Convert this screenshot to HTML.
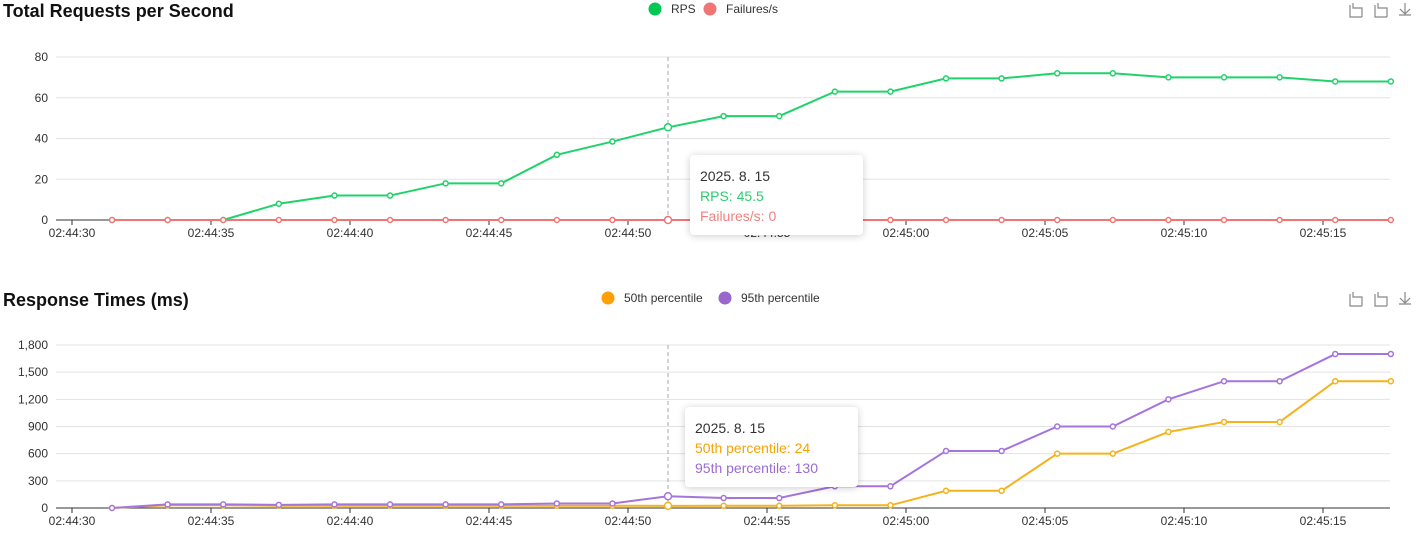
<!DOCTYPE html>
<html><head><meta charset="utf-8"><style>
body{margin:0;background:#fff;width:1421px;height:546px;overflow:hidden;font-family:"Liberation Sans",sans-serif}
svg{position:absolute;left:0;top:0}
.tip{position:absolute;background:#fff;border-radius:4px;box-shadow:0 1px 8px rgba(0,0,0,.2);padding:11px 10px;font-size:14px;line-height:20px;color:#333;width:153px;height:58px}
</style></head><body>
<svg width="1421" height="546" id="svg"></svg>
<div class="tip" style="left:690px;top:155px">
<div>2025. 8. 15</div>
<div style="color:#2ecc71">RPS: 45.5</div>
<div style="color:#f08080">Failures/s: 0</div></div>
<div class="tip" style="left:685px;top:407px">
<div>2025. 8. 15</div>
<div style="color:#f5a300">50th percentile: 24</div>
<div style="color:#9b6bd3">95th percentile: 130</div></div>
<script>
const rps=[0,0,0,8,12,12,18,18,32,38.5,45.5,51,51,63,63,69.5,69.5,72,72,70,70,70,68,68];
const failures=[0,0,0,0,0,0,0,0,0,0,0,0,0,0,0,0,0,0,0,0,0,0,0,0];
const p50=[0,30,30,25,25,25,25,25,25,25,24,25,25,30,30,190,190,600,600,840,950,950,1400,1400];
const p95=[0,40,40,35,40,40,40,40,50,50,130,110,110,240,240,630,630,900,900,1200,1400,1400,1700,1700];
const xTicks=["02:44:30","02:44:35","02:44:40","02:44:45","02:44:50","02:44:55","02:45:00","02:45:05","02:45:10","02:45:15"];
const rpsTicks=[0,20,40,60,80];
const rtTicks=[0,300,600,900,1200,1500,1800];
const NS="http://www.w3.org/2000/svg",svg=document.getElementById('svg');
function el(t,a,p){const e=document.createElementNS(NS,t);for(const k in a)e.setAttribute(k,a[k]);(p||svg).appendChild(e);return e;}
const secPx=27.8, x0=72, firstSec=1.44;
const xT=i=>x0+i*5*secPx;
const xP=i=>x0+(firstSec+2*i)*secPx;
function chart(top,bottom,maxV,ticks,fmt,series,title,legend,ty,hover){
  const y=v=>bottom-(v/maxV)*(bottom-top);
  let t=el('text',{x:3,y:ty,'font-size':18,'font-weight':'bold',fill:'#111'});t.textContent=title;
  
  
  legend.forEach(l=>{
    let c=el('circle',{cx:l.x,cy:ty-8,r:6.5,fill:l.c});
    
    
    let lt=el('text',{x:l.x+16,y:ty-4,'font-size':12,fill:'#333'});lt.textContent=l.t;
    
    
  });
  [1356,1381,1405].forEach((ix,k)=>{
    let g=el('path',{d:k==2?`M${ix} ${ty-14}v10m-5 -4l5 5l5 -5M${ix-6} ${ty-2}h12`:`M${ix-6} ${ty-12}v12h12M${ix-3} ${ty-14}v5h9v9`,stroke:'#888',fill:'none','stroke-width':1.2});
    
    
  });
  ticks.forEach(v=>{
    el('line',{x1:56,x2:1390,y1:y(v),y2:y(v),stroke:v?'#e3e3e3':'#333','stroke-width':1});
    let tt=el('text',{x:48,y:y(v)+4,'font-size':12,fill:'#333','text-anchor':'end'});tt.textContent=fmt(v);
    
    
  });
  xTicks.forEach((s,i)=>{
    el('line',{x1:xT(i),x2:xT(i),y1:bottom,y2:bottom+5,stroke:'#333'});
    let tt=el('text',{x:xT(i),y:bottom+17,'font-size':12,fill:'#333','text-anchor':'middle'});tt.textContent=s;
    
    
  });
  el('line',{x1:xP(hover),x2:xP(hover),y1:top,y2:bottom,stroke:'#aaa','stroke-dasharray':'4,3'});
  series.forEach(s=>{
    let p=el('polyline',{points:s.d.map((v,i)=>xP(i)+','+y(v)).join(' '),fill:'none',stroke:s.c,'stroke-width':2});
    
    
    s.d.forEach((v,i)=>{
      let c=el('circle',{cx:xP(i),cy:y(v),r:i==hover?3.5:2.5,fill:'#fff',stroke:s.c,'stroke-width':1.5});
      
      
    });
  });
}
chart(57,220,80,rpsTicks,v=>v,[{d:rps,c:'#1fd36a',n:'rps'},{d:failures,c:'#f07575',n:'failures'}],
 'Total Requests per Second',[{x:655,c:'#00c853',t:'RPS'},{x:710,c:'#f07575',t:'Failures/s'}],17,10);
chart(345,508,1800,rtTicks,v=>v.toLocaleString('en-US'),[{d:p50,c:'#f5b21a',n:'p50'},{d:p95,c:'#a574dc',n:'p95'}],
 'Response Times (ms)',[{x:608,c:'#ff9f00',t:'50th percentile'},{x:725,c:'#9966cc',t:'95th percentile'}],306,10);
</script>
</body></html>
